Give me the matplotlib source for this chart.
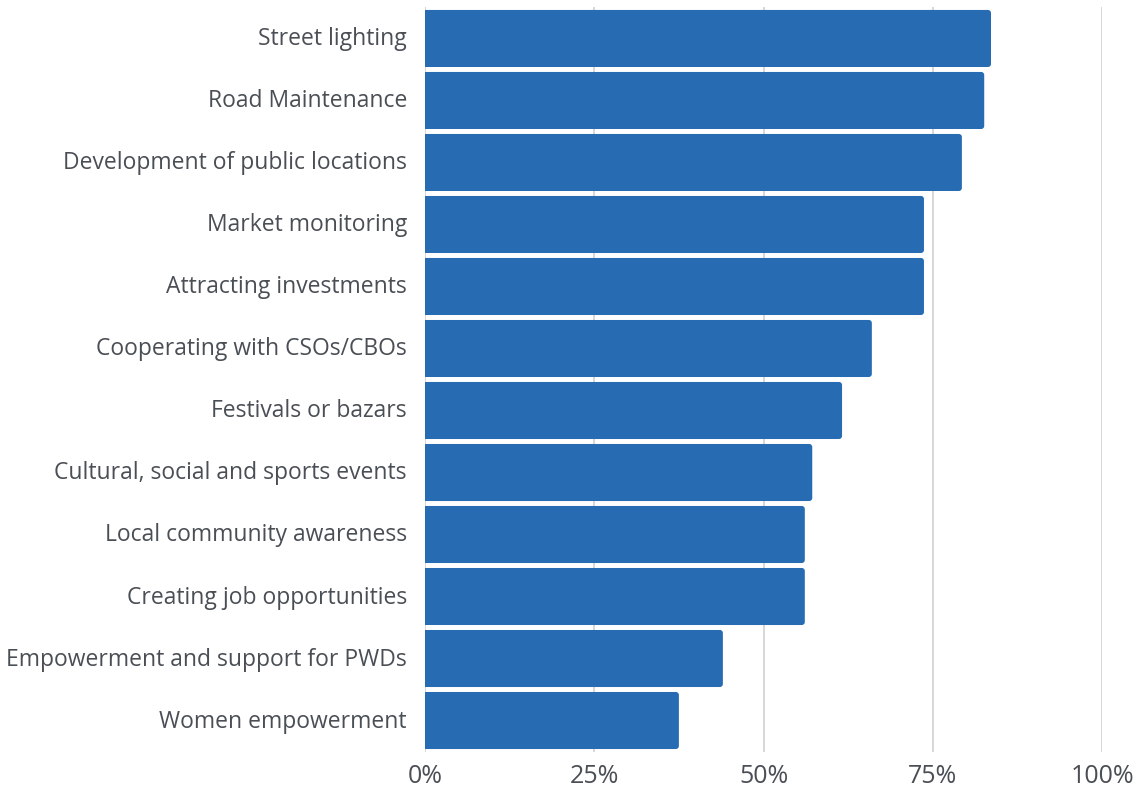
import numpy as np
import matplotlib.pyplot as plt
import matplotlib.transforms as mtransforms
from matplotlib.patches import FancyBboxPatch

categories = [
    "Street lighting",
    "Road Maintenance",
    "Development of public locations",
    "Market monitoring",
    "Attracting investments",
    "Cooperating with CSOs/CBOs",
    "Festivals or bazars",
    "Cultural, social and sports events",
    "Local community awareness",
    "Creating job opportunities",
    "Empowerment and support for PWDs",
    "Women empowerment",
]
values = [83.6, 82.6, 79.3, 73.7, 73.7, 66.0, 61.6, 57.2, 56.1, 56.1, 44.0, 37.5]
xticks = [0, 25, 50, 75, 100]
xticklabels = ["0%", "25%", "50%", "75%", "100%"]

plt.rcParams['font.family'] = ['Open Sans', 'DejaVu Sans']
text_color = '#4a4f55'
bar_color = '#276cb3'

fig = plt.figure(figsize=(11.4, 7.87), dpi=100)
ax = fig.add_axes([0.3728, 0.0451, 0.5939, 0.9454])

y = np.arange(len(categories))
bar_h = 0.92
ax.set_xlim(0, 100)
ax.set_ylim(len(categories) - 0.5, -0.5)

# rounded right corners; left side starts off-axis so it is clipped square
aspect = (1 / 62.0) / (1 / 6.77)
for yi, v in zip(y, values):
    box = FancyBboxPatch((-2, yi - bar_h / 2), v + 2, bar_h,
                         boxstyle="round,pad=0,rounding_size=0.45",
                         mutation_aspect=aspect, facecolor=bar_color,
                         edgecolor='none', zorder=3)
    ax.add_patch(box)

ax.set_yticks(y)
ax.set_yticklabels(categories, fontsize=16.5, color=text_color)
ax.set_xticks(xticks)
ax.set_xticklabels(xticklabels, fontsize=18, color=text_color)
ax.tick_params(axis='y', length=0, pad=13)
ax.tick_params(axis='x', length=0, pad=9)

# nudge category labels up a little
shift = mtransforms.ScaledTranslation(0, 2 / 100, fig.dpi_scale_trans)
for lab in ax.get_yticklabels():
    lab.set_transform(lab.get_transform() + shift)

ax.grid(axis='x', color='#d4d4d4', linewidth=1.3, zorder=0)
ax.set_axisbelow(True)
for s in ax.spines.values():
    s.set_visible(False)

fig.savefig('out.png', dpi=100)
